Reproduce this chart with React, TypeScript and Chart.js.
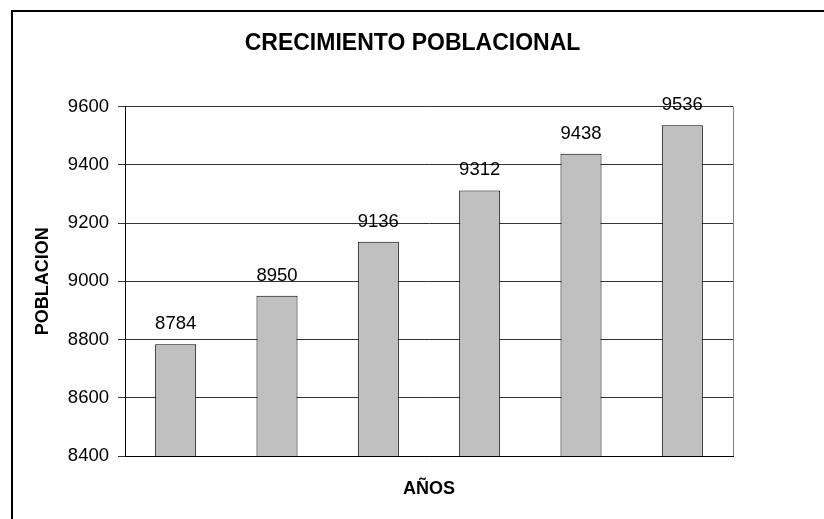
import React, { useEffect, useRef } from 'react';
import { Chart, registerables } from 'chart.js';

Chart.register(...registerables);

const chartTitle = 'CRECIMIENTO POBLACIONAL';
const xAxisTitle = 'AÑOS';
const yAxisTitle = 'POBLACION';
const categories = ['1', '2', '3', '4', '5', '6'];
const population = [8784, 8950, 9136, 9312, 9438, 9536];
const yMin = 8400;
const yMax = 9600;
const yStep = 200;

const FONT = '"Liberation Sans", Arial, sans-serif';

const decorPlugin = {
  id: 'decor',
  afterDraw(chart: any) {
    const { ctx, chartArea } = chart;
    ctx.save();
    // plot area right edge (gray)
    ctx.strokeStyle = '#808080';
    ctx.lineWidth = 1;
    ctx.beginPath();
    ctx.moveTo(Math.round(chartArea.right) + 0.5, chartArea.top);
    ctx.lineTo(Math.round(chartArea.right) + 0.5, chartArea.bottom);
    ctx.stroke();
    // outer chart border (top and left visible)
    ctx.strokeStyle = '#000';
    ctx.lineWidth = 2;
    ctx.beginPath();
    ctx.moveTo(824, 11);
    ctx.lineTo(12, 11);
    ctx.lineTo(12, 519);
    ctx.stroke();
    // data labels
    const meta = chart.getDatasetMeta(0);
    ctx.fillStyle = '#000';
    ctx.font = `18.5px ${FONT}`;
    ctx.textAlign = 'center';
    ctx.textBaseline = 'alphabetic';
    meta.data.forEach((bar: any, i: number) => {
      ctx.fillText(String(population[i]), bar.x, bar.y - 15);
    });
    ctx.restore();
  },
};

export default function App() {
  const ref = useRef<HTMLCanvasElement | null>(null);
  useEffect(() => {
    if (!ref.current) return;
    const chart = new Chart(ref.current, {
      type: 'bar',
      data: {
        labels: categories,
        datasets: [
          {
            data: population,
            backgroundColor: '#C0C0C0',
            borderColor: '#000',
            borderWidth: 1,
            borderSkipped: false,
            categoryPercentage: 1,
            barPercentage: 0.405,
            yAxisID: 'y',
          },
        ],
      },
      options: {
        responsive: false,
        animation: false,
        layout: { padding: { left: 32, right: 31, top: 18, bottom: 19 } },
        plugins: {
          legend: { display: false },
          tooltip: { enabled: false },
          title: {
            display: true,
            text: chartTitle,
            color: '#000',
            font: { family: FONT, size: 23, weight: 'bold' },
            padding: { top: 12, bottom: 49 },
          },
        },
        scales: {
          x: {
            grid: { display: false },
            border: { display: true, color: '#000', width: 1 },
            ticks: { display: false },
            title: {
              display: true,
              text: xAxisTitle,
              color: '#000',
              font: { family: FONT, size: 18, weight: 'bold' },
              padding: { top: 0, bottom: 0 },
            },
            afterFit(scale: any) {
              scale.height = 44;
            },
          },
          y: {
            position: 'left',
            min: yMin,
            max: yMax,
            ticks: {
              stepSize: yStep,
              color: '#000',
              padding: 9,
              font: { family: FONT, size: 18.5 },
              callback: (v: any) => String(v),
            },
            grid: { color: '#333', lineWidth: 1, tickLength: 7, drawTicks: true },
            border: { display: true, color: '#000', width: 1 },
            title: {
              display: true,
              text: yAxisTitle,
              color: '#000',
              font: { family: FONT, size: 18, weight: 'bold' },
              padding: { top: 0, bottom: 0 },
            },
            afterFit(scale: any) {
              scale.width = 93;
            },
          },
          yRight: {
            position: 'right',
            display: true,
            min: yMin,
            max: yMax,
            grid: { display: false, drawOnChartArea: false },
            border: { display: false },
            ticks: { display: false },
            afterFit(scale: any) {
              scale.width = 60;
            },
          },
        },
      },
      plugins: [decorPlugin],
    });
    return () => chart.destroy();
  }, []);
  return (
    <div style={{ position: 'absolute', left: 0, top: 0, width: 824, height: 519, background: '#fff' }}>
      <canvas ref={ref} width={824} height={519} style={{ width: 824, height: 519, display: 'block' }} />
    </div>
  );
}
